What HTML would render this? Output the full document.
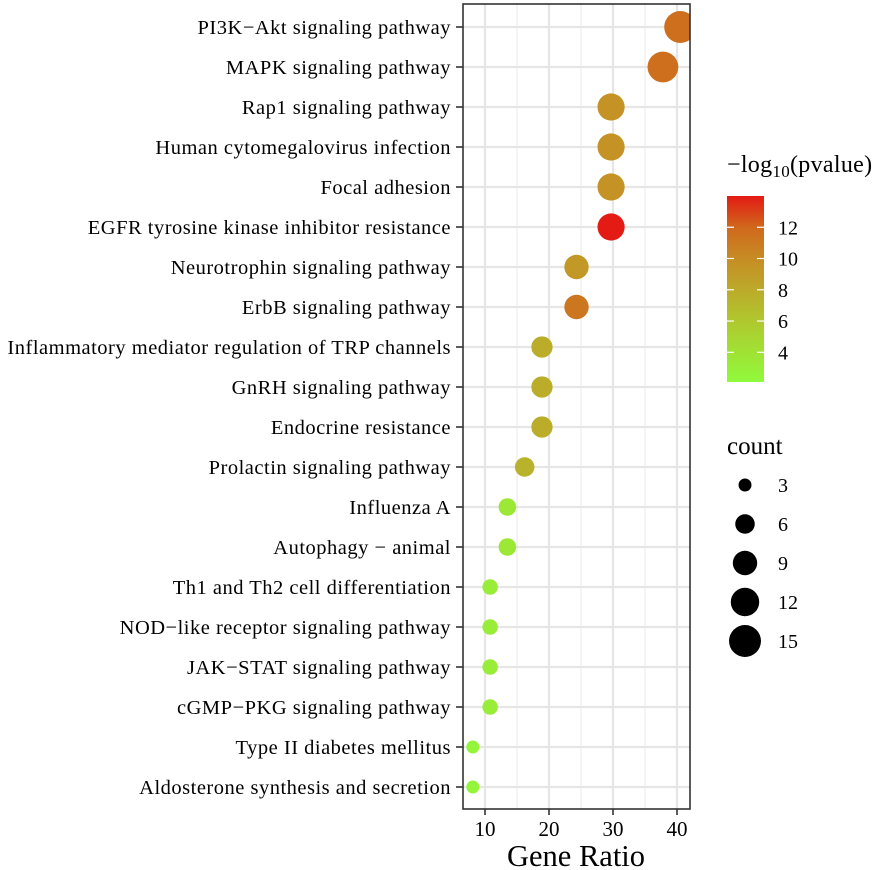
<!DOCTYPE html>
<html><head><meta charset="utf-8"><style>
html,body{margin:0;padding:0;background:#fff;}
svg{display:block;font-family:"Liberation Serif",serif;}
</style></head><body>
<svg id="chart" width="881" height="870" xmlns="http://www.w3.org/2000/svg"></svg>
<script>
const categories = ["PI3K\u2212Akt signaling pathway","MAPK signaling pathway","Rap1 signaling pathway","Human cytomegalovirus infection","Focal adhesion","EGFR tyrosine kinase inhibitor resistance","Neurotrophin signaling pathway","ErbB signaling pathway","Inflammatory mediator regulation of TRP channels","GnRH signaling pathway","Endocrine resistance","Prolactin signaling pathway","Influenza A","Autophagy \u2212 animal","Th1 and Th2 cell differentiation","NOD\u2212like receptor signaling pathway","JAK\u2212STAT signaling pathway","cGMP\u2212PKG signaling pathway","Type II diabetes mellitus","Aldosterone synthesis and secretion"];
const counts = [15,14,11,11,11,11,9,9,7,7,7,6,5,5,4,4,4,4,3,3];
const geneRatio = [40.5,37.8,29.7,29.7,29.7,29.7,24.3,24.3,18.9,18.9,18.9,16.2,13.5,13.5,10.8,10.8,10.8,10.8,8.1,8.1];
const logP = [11.6,11.6,9.6,9.6,9.6,14,9.2,11.2,7.8,7.8,7.8,7.4,3.6,3.6,3.1,3.1,3.1,3.1,2.6,2.6];
const xTicks = [10,20,30,40];
const xMinor = [5,15,25,35];
const colorTicks = [4,6,8,10,12];
const sizeLegend = [3,6,9,12,15];

const NS="http://www.w3.org/2000/svg";
const svg=document.getElementById('chart');
function mk(tag,attrs,parent){const e=document.createElementNS(NS,tag);for(const k in attrs)e.setAttribute(k,attrs[k]);(parent||svg).appendChild(e);return e;}
const P={l:463,r:690,t:4,b:809};
const xScale=v=>485+(v-10)*6.4;
const yScale=i=>27+i*40;
const rScale=c=>Math.sqrt(Math.max(4,-11.5+17.8*c));
const cMin=2.1,cMax=14;
const stopsV=[2.1,4,6,8,10,12,14];
const stopsC=[[144,250,60],[160,226,52],[176,200,46],[188,170,42],[198,140,36],[208,104,28],[228,26,20]];
function col(v){v=Math.max(cMin,Math.min(cMax,v));let k=0;while(k<stopsV.length-2&&v>stopsV[k+1])k++;const t=(v-stopsV[k])/(stopsV[k+1]-stopsV[k]);return 'rgb('+stopsC[k].map((a,i)=>Math.round(a+(stopsC[k+1][i]-a)*t)).join(',')+')';}
const cbY=v=>382-(v-cMin)/(cMax-cMin)*186;

const defs=mk('defs',{});
const clip=mk('clipPath',{id:'pc'},defs);
mk('rect',{x:P.l,y:P.t,width:P.r-P.l,height:P.b-P.t},clip);
const grid=mk('g',{});


xMinor.forEach(v=>{const x=xScale(v);if(x>P.l&&x<P.r)mk('line',{x1:x,x2:x,y1:P.t,y2:P.b,stroke:'#ececec','stroke-width':1.2},grid);});
xTicks.forEach(v=>{const x=xScale(v);mk('line',{x1:x,x2:x,y1:P.t,y2:P.b,stroke:'#e6e6e6','stroke-width':2.2},grid);});
categories.forEach((c,i)=>mk('line',{x1:P.l,x2:P.r,y1:yScale(i),y2:yScale(i),stroke:'#e6e6e6','stroke-width':2.2},grid));

const pts=mk('g',{'clip-path':'url(#pc)'});
categories.forEach((c,i)=>{
  const e=mk('circle',{cx:xScale(geneRatio[i]),cy:yScale(i),r:rScale(counts[i]),fill:col(logP[i])},pts);
  
  
});
const fr=mk('rect',{x:P.l,y:P.t,width:P.r-P.l,height:P.b-P.t,fill:'none',stroke:'#333','stroke-width':1.6});



categories.forEach((c,i)=>{
  const y=yScale(i);
  mk('line',{x1:456,x2:P.l,y1:y,y2:y,stroke:'#333','stroke-width':1.6});
  const t=mk('text',{x:451,y:y+7,'text-anchor':'end','font-size':20.5,'letter-spacing':0.5,fill:'#000'});
  t.textContent=c;
  
  
});
xTicks.forEach(v=>{
  const x=xScale(v);
  mk('line',{x1:x,x2:x,y1:P.b,y2:P.b+6,stroke:'#333','stroke-width':1.6});
  const t=mk('text',{x:x,y:836,'text-anchor':'middle','font-size':21,fill:'#000'});
  t.textContent=v;
  
  
});
const xt=mk('text',{x:576,y:866,'text-anchor':'middle','font-size':30.5,fill:'#000'});
xt.textContent='Gene Ratio';



const ct=mk('text',{x:727,y:172,'font-size':24,'letter-spacing':0.3,fill:'#000'});
ct.innerHTML='\u2212log<tspan font-size="17" dy="5">10</tspan><tspan dy="-5">(pvalue)</tspan>';


const lg=mk('linearGradient',{id:'cg',x1:0,y1:1,x2:0,y2:0},defs);
stopsV.forEach((v,k)=>mk('stop',{offset:(v-cMin)/(cMax-cMin),'stop-color':col(v)},lg));
const cb=mk('rect',{x:727,y:196,width:37,height:186,fill:'url(#cg)'});


colorTicks.forEach(v=>{
  const y=cbY(v);
  mk('line',{x1:727,x2:734,y1:y,y2:y,stroke:'#fff','stroke-width':1.2});
  mk('line',{x1:757,x2:764,y1:y,y2:y,stroke:'#fff','stroke-width':1.2});
  const t=mk('text',{x:778,y:y+7,'font-size':20,fill:'#000'});
  t.textContent=v;
  
  
});
const st=mk('text',{x:727,y:454,'font-size':25,fill:'#000'});
st.textContent='count';


sizeLegend.forEach((c,i)=>{
  const y=485+i*39;
  const e=mk('circle',{cx:745,cy:y,r:rScale(c),fill:'#000'});
  
  
  const t=mk('text',{x:778,y:y+7,'font-size':20,fill:'#000'});
  t.textContent=c;
  
  
});
</script>
</body></html>
